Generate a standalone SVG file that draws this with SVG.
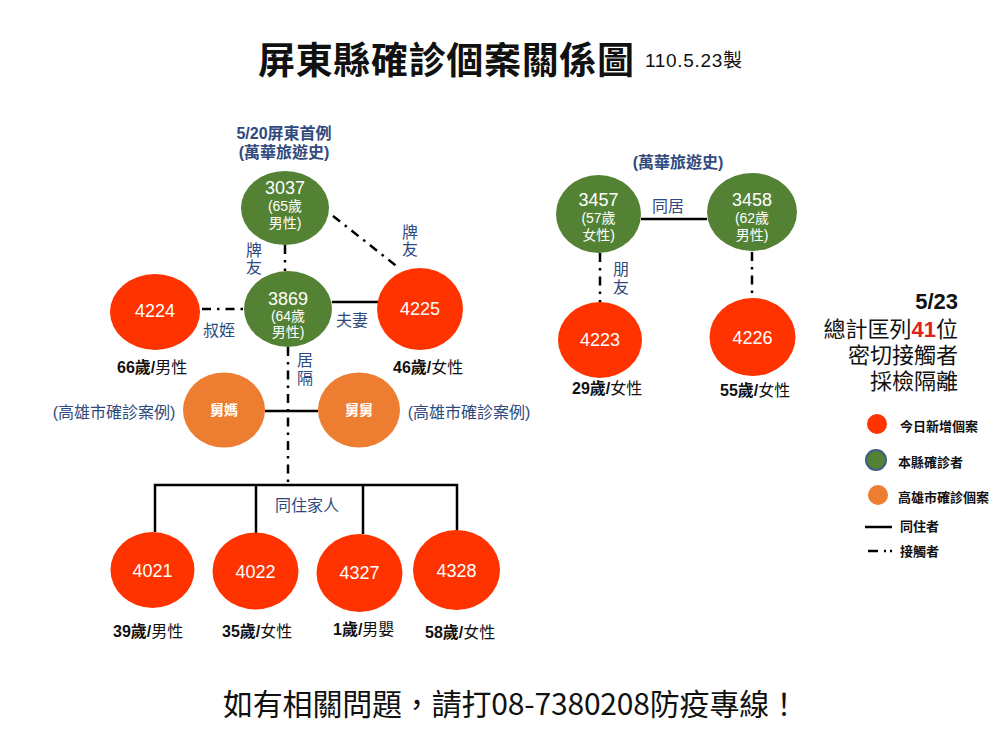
<svg xmlns="http://www.w3.org/2000/svg" width="1000" height="754" viewBox="0 0 1000 754">
<style>
text{font-family:"Liberation Sans","Noto Sans CJK TC",sans-serif;}
.cjk{font-family:"Noto Sans CJK TC","Liberation Sans",sans-serif;}
.red{fill:#FF3300;}
.green{fill:#548235;}
.orange{fill:#ED7D31;}
.num{fill:#fff;font-size:18px;text-anchor:middle;dominant-baseline:central;}
.sub{fill:#fff;font-size:14px;text-anchor:middle;dominant-baseline:central;}
.lbl{fill:#2F4A7E;font-size:16px;text-anchor:middle;dominant-baseline:central;}
.age{fill:#111;font-size:16px;dominant-baseline:central;}
.b{font-weight:bold;}
.solid{stroke:#000;stroke-width:2.5;fill:none;}
.dd{stroke:#000;stroke-width:2.5;fill:none;stroke-dasharray:9 6 2.5 6;}
.leg{fill:#111;font-size:13px;font-weight:bold;dominant-baseline:central;}
.big{fill:#111;font-size:22px;text-anchor:end;dominant-baseline:central;}
</style>
<rect width="1000" height="754" fill="#fff"/>
<text x="258" y="58" font-size="37" font-weight="bold" fill="#111" dominant-baseline="central" textLength="376" class="cjk">屏東縣確診個案關係圖</text>
<text x="645" y="60" font-size="19" fill="#111" dominant-baseline="central" textLength="97">110.5.23製</text>

<g id="connectors">
<line class="dd" x1="285" y1="245" x2="285" y2="271"/>
<line class="dd" x1="333" y1="216" x2="399" y2="268"/>
<line class="dd" x1="202" y1="309" x2="245" y2="309"/>
<line class="solid" x1="332" y1="302" x2="378" y2="302"/>
<line class="dd" x1="288" y1="347" x2="288" y2="485"/>
<line class="solid" x1="265" y1="411" x2="318" y2="411"/>
<polyline class="solid" points="155,532 155,485 457,485 457,530"/>
<line class="solid" x1="256" y1="485" x2="256" y2="533"/>
<line class="solid" x1="363" y1="485" x2="363" y2="534"/>
<line class="solid" x1="641" y1="219" x2="707" y2="219"/>
<line class="dd" x1="600" y1="253" x2="600" y2="302"/>
<line class="dd" x1="752" y1="252" x2="752" y2="298"/>
</g>

<g id="labels">
<text class="lbl b" x="284" y="133">5/20屏東首例</text>
<text class="lbl b" x="284" y="152">(萬華旅遊史)</text>
<text class="lbl" x="254" y="250">牌</text>
<text class="lbl" x="254" y="267">友</text>
<text class="lbl" x="410" y="232">牌</text>
<text class="lbl" x="410" y="249">友</text>
<text class="lbl" x="219" y="330">叔姪</text>
<text class="lbl" x="352" y="320">夫妻</text>
<text class="lbl" x="305" y="360">居</text>
<text class="lbl" x="305" y="378">隔</text>
<text class="lbl" x="114" y="412">(高雄市確診案例)</text>
<text class="lbl" x="469" y="412">(高雄市確診案例)</text>
<text class="lbl" x="307" y="505" font-size="15">同住家人</text>
<text class="lbl b" x="678" y="162">(萬華旅遊史)</text>
<text class="lbl" x="668" y="206">同居</text>
<text class="lbl" x="621" y="269">朋</text>
<text class="lbl" x="621" y="287">友</text>
<text class="age" x="117" y="367"><tspan class="b">66歲/</tspan>男性</text>
<text class="age" x="393" y="367"><tspan class="b">46歲/</tspan>女性</text>
<text class="age" x="113" y="631"><tspan class="b">39歲/</tspan>男性</text>
<text class="age" x="222" y="631"><tspan class="b">35歲/</tspan>女性</text>
<text class="age" x="333" y="629"><tspan class="b">1歲/</tspan>男嬰</text>
<text class="age" x="425" y="632"><tspan class="b">58歲/</tspan>女性</text>
<text class="age" x="572" y="388"><tspan class="b">29歲/</tspan>女性</text>
<text class="age" x="720" y="390"><tspan class="b">55歲/</tspan>女性</text>
</g>

<g id="n3037"><ellipse class="green" cx="285" cy="208" rx="44" ry="37"/><text class="num" x="285" y="188">3037</text><text class="sub" x="285" y="206">(65歲</text><text class="sub" x="285" y="223">男性)</text></g>
<g id="n3869"><ellipse class="green" cx="288" cy="309" rx="44" ry="38"/><text class="num" x="288" y="299">3869</text><text class="sub" x="288" y="316">(64歲</text><text class="sub" x="288" y="332">男性)</text></g>
<g id="n4224"><ellipse class="red" cx="155" cy="312" rx="45" ry="38"/><text class="num" x="155" y="311">4224</text></g>
<g id="n4225"><ellipse class="red" cx="420" cy="309" rx="43" ry="41"/><text class="num" x="420" y="309">4225</text></g>
<g id="jiuma"><ellipse class="orange" cx="224" cy="410" rx="41" ry="37.5"/><text class="sub b" x="224" y="410" font-size="16" fill="#FFF4EC">舅媽</text></g>
<g id="jiujiu"><ellipse class="orange" cx="359" cy="410" rx="41" ry="37.5"/><text class="sub b" x="359" y="410" font-size="16" fill="#FFF4EC">舅舅</text></g>
<g id="n4021"><ellipse class="red" cx="152.5" cy="570" rx="42" ry="38"/><text class="num" x="152.5" y="571">4021</text></g>
<g id="n4022"><ellipse class="red" cx="255.5" cy="571" rx="43" ry="38.5"/><text class="num" x="255.5" y="572">4022</text></g>
<g id="n4327"><ellipse class="red" cx="359.5" cy="573" rx="43" ry="39"/><text class="num" x="359.5" y="573">4327</text></g>
<g id="n4328"><ellipse class="red" cx="456.5" cy="570" rx="43.5" ry="40"/><text class="num" x="456.5" y="571">4328</text></g>
<g id="n3457"><ellipse class="green" cx="598.5" cy="214" rx="42.5" ry="39"/><text class="num" x="598.5" y="200">3457</text><text class="sub" x="598.5" y="218">(57歲</text><text class="sub" x="598.5" y="235">女性)</text></g>
<g id="n3458"><ellipse class="green" cx="752" cy="212" rx="45" ry="39"/><text class="num" x="752" y="200">3458</text><text class="sub" x="752" y="218">(62歲</text><text class="sub" x="752" y="235">男性)</text></g>
<g id="n4223"><ellipse class="red" cx="600" cy="340" rx="42" ry="38"/><text class="num" x="600" y="340">4223</text></g>
<g id="n4226"><ellipse class="red" cx="752.5" cy="337" rx="43" ry="39"/><text class="num" x="752.5" y="338">4226</text></g>

<g id="summary">
<text class="big b" x="958" y="301" font-size="20">5/23</text>
<text class="big" x="958" y="329">總計匡列<tspan fill="#E0201A" font-weight="bold">41</tspan>位</text>
<text class="big" x="958" y="355">密切接觸者</text>
<text class="big" x="958" y="381">採檢隔離</text>
</g>

<g id="legend">
<circle cx="877" cy="424" r="10" fill="#FF3300"/>
<text class="leg" x="900" y="426">今日新增個案</text>
<circle cx="876" cy="460" r="10" fill="#548235" stroke="#3B5E82" stroke-width="2"/>
<text class="leg" x="898" y="462">本縣確診者</text>
<circle cx="878" cy="495" r="10" fill="#ED7D31"/>
<text class="leg" x="898" y="497">高雄市確診個案</text>
<line class="solid" x1="865" y1="527" x2="892" y2="527"/>
<text class="leg" x="900" y="526">同住者</text>
<line x1="868" y1="551" x2="896" y2="551" stroke="#000" stroke-width="2.5" stroke-dasharray="10 6 2 4 2 4"/>
<text class="leg" x="900" y="551">接觸者</text>
</g>

<text x="223" y="702" font-size="30" fill="#111" dominant-baseline="central" textLength="576" class="cjk">如有相關問題，請打08-7380208防疫專線！</text>
</svg>
